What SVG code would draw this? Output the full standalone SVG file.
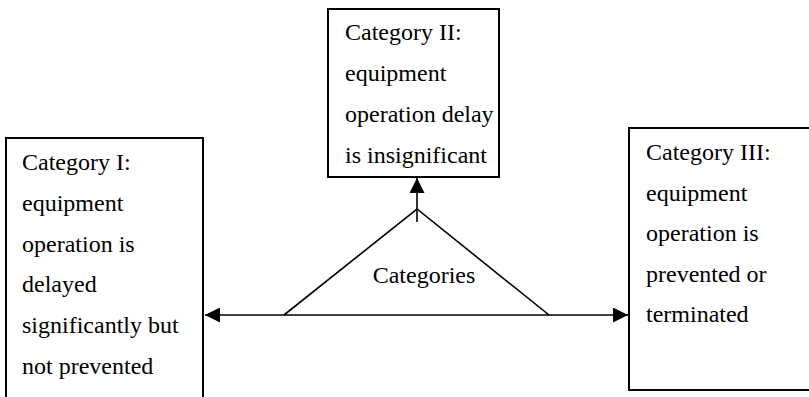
<svg xmlns="http://www.w3.org/2000/svg" width="809" height="397" viewBox="0 0 809 397">
<style>
.box{fill:#fff;stroke:#000;stroke-width:2}
text{font-family:'Liberation Serif',Tinos,'Times New Roman',Times,'DejaVu Serif',serif;font-size:24px;fill:#000}
.ln{fill:none;stroke:#000;stroke-width:1.6}
</style>
<defs>
<marker id="ah" viewBox="0 0 10 10" refX="10" refY="5" markerWidth="15" markerHeight="15" markerUnits="userSpaceOnUse" orient="auto">
<path d="M0,0 L10,5 L0,10 Z" fill="#000"/>
</marker>
</defs>
<rect width="809" height="397" fill="#fff"/>
<g id="categories">
<polyline class="ln" points="284,315 417,209 549,315"/>
<text x="424" y="283" text-anchor="middle" font-family="Liberation Serif, serif">Categories</text>
</g>
<g id="cat1">
<rect class="box" x="6" y="138" width="197" height="270"/>
<text x="22" y="170" font-family="Liberation Serif, serif">Category I:</text>
<text x="22" y="211" font-family="Liberation Serif, serif">equipment</text>
<text x="22" y="251.5" font-family="Liberation Serif, serif">operation is</text>
<text x="22" y="292" font-family="Liberation Serif, serif">delayed</text>
<text x="22" y="333" font-family="Liberation Serif, serif">significantly but</text>
<text x="22" y="374" font-family="Liberation Serif, serif">not prevented</text>
</g>
<g id="cat2">
<rect class="box" x="328" y="9" width="171" height="168"/>
<text x="345" y="39.5" font-family="Liberation Serif, serif">Category II:</text>
<text x="345" y="80.5" font-family="Liberation Serif, serif">equipment</text>
<text x="345" y="121.5" font-family="Liberation Serif, serif">operation delay</text>
<text x="345" y="162.5" font-family="Liberation Serif, serif">is insignificant</text>
</g>
<g id="cat3">
<rect class="box" x="629" y="128" width="190" height="262"/>
<text x="646" y="160" font-family="Liberation Serif, serif">Category III:</text>
<text x="646" y="200.5" font-family="Liberation Serif, serif">equipment</text>
<text x="646" y="241" font-family="Liberation Serif, serif">operation is</text>
<text x="646" y="281.5" font-family="Liberation Serif, serif">prevented or</text>
<text x="646" y="322" font-family="Liberation Serif, serif">terminated</text>
</g>
<g id="connectors">
<line class="ln" x1="417" y1="222" x2="417" y2="178" marker-end="url(#ah)"/>
<line class="ln" x1="417" y1="315" x2="205" y2="315" marker-end="url(#ah)"/>
<line class="ln" x1="417" y1="315" x2="628" y2="315" marker-end="url(#ah)"/>
</g>
</svg>
